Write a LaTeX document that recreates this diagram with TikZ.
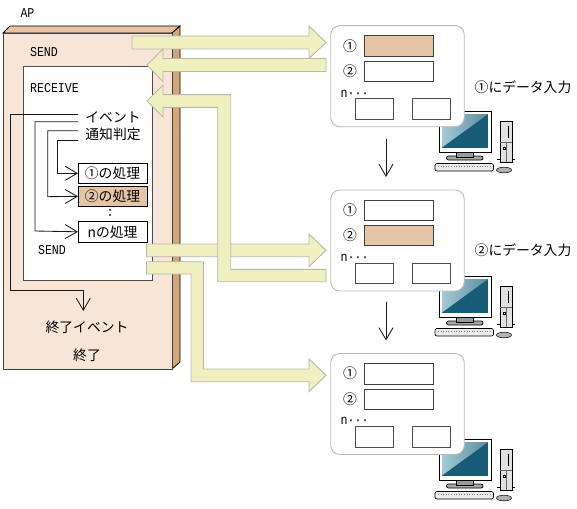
\documentclass[tikz,border=0pt]{standalone}
\usepackage{fontspec}
\setmainfont{Noto Sans CJK JP}
\setmonofont[FakeStretch=0.86]{Liberation Mono}
\definecolor{facetan}{RGB}{247,230,216}
\definecolor{toptan}{RGB}{232,196,164}
\definecolor{sidetan}{RGB}{210,166,121}
\definecolor{marked}{RGB}{230,197,166}
\definecolor{bandfill}{RGB}{240,239,192}
\definecolor{bandline}{RGB}{184,184,168}
\definecolor{screendark}{RGB}{24,92,120}
\usetikzlibrary{positioning, arrows.meta}

\begin{document}
\begin{tikzpicture}[
    x=1pt, y=-1pt,
    jptext/.style={inner sep=0pt, font=\fontsize{13.8}{15}\selectfont},
    monotext/.style={inner sep=0pt, font=\ttfamily\fontsize{13.5}{15}\selectfont},
    outerbox/.style={draw=black!75, fill=facetan, line width=0.9pt, inner sep=0pt, outer sep=0pt,
      minimum width=169pt, minimum height=336pt},
    recvbox/.style={draw=black!70, fill=white, line width=0.9pt, inner sep=0pt, outer sep=0pt,
      minimum width=129pt, minimum height=214.5pt},
    procbox/.style={jptext, draw=black, fill=white, line width=0.8pt, outer sep=0pt,
      minimum width=69pt, minimum height=20.5pt},
    dlgpanel/.style={draw=black!28, fill=white, line width=0.9pt, rounded corners=9pt, outer sep=0pt,
      minimum width=133.5pt, minimum height=101pt},
    inputbox/.style={draw=black!75, fill=white, line width=0.8pt, outer sep=0pt, inner sep=0pt,
      minimum width=69pt, minimum height=20.4pt},
    btnbox/.style={draw=black!70, fill=white, line width=0.8pt, outer sep=0pt, inner sep=0pt,
      minimum width=38.3pt, minimum height=20.8pt},
    flowline/.style={draw=black!90, line width=0.85pt, -{Straight Barb[length=12pt,width=14pt]}},
    bandarrow/.style={draw=bandline, fill=bandfill, line width=0.9pt},
    pics/computer/.style={code={
      % tower, monitor, keyboard, mouse
      \draw[black, line width=0.8pt] (58,48) -- (76,48);
      \draw[black, fill=black!12, line width=0.6pt] (61,10) rectangle (73,51);
      \draw[black!60, line width=0.5pt] (61,31) -- (73,31) (67,31) -- (67,51);
      \draw[black, line width=1pt] (69,15) -- (69,27);
      \draw[black, fill=white, line width=0.6pt] (64,36) rectangle (66.5,38.5);
      \draw[black, fill=black!35, line width=0.7pt, rounded corners=2pt] (7.5,45) rectangle (44,49);
      \draw[black, fill=black!40, line width=0.6pt] (17.5,41) rectangle (34,46);
      \draw[black, fill=white, line width=0.9pt] (0,0) rectangle (52.5,41.5);
      \fill[screendark] (3,3) rectangle (49,36.5);
      \shade[left color=black!0!cyan!20!screendark!40, right color=screendark!70!white]
        (3,3) -- (49,3) -- (3,36.5) -- cycle;
      \draw[black, fill=black!8, line width=0.7pt, rounded corners=2pt] (-4,52.5) rectangle (54.5,60);
      \draw[black!50, line width=0.6pt, dotted] (-1,55.5) -- (52,55.5);
      \draw[black, fill=black!30, line width=0.5pt] (65,59) ellipse (7.5 and 2.8);
    }},
  ]
    \useasboundingbox (0,0) rectangle (577,508);

    % computers go under the panels
    \pic at (439,111) {computer};
    \pic at (439,276) {computer};
    \pic at (439,439) {computer};

    % AP block
    \draw[black, fill=toptan, line width=0.8pt] (3,33) -- (10,26) -- (180,26) -- (172,33) -- cycle;
    \draw[black, fill=sidetan, line width=0.8pt] (172,33) -- (180,26) -- (180,362) -- (172,369) -- cycle;
    \node[outerbox] (ap) at (87.5,201) {};
    \node[recvbox] (recv) at (87.5,173.3) {};

    \node[monotext] (aptitle) at (27.5,12.7) {AP};
    \node[monotext] (send1) at (44,52) {SEND};
    \node[monotext] (receive) at (54.5,87.6) {RECEIVE};
    \node[jptext, inner xsep=7pt] (evt) at (113,117) {イベント};
    \node[jptext, inner xsep=7pt] (judge) at (113,134) {通知判定};
    \node[procbox] (proc1) at (112.5,173.3) {①の処理};
    \node[procbox, fill=marked, below=2.5pt of proc1] (proc2) {②の処理};
    \node[procbox, below=15pt of proc2] (procn) {nの処理};
    \node[monotext] (dots) at (110,213) {:};
    \node[monotext] (send2) at (52,250) {SEND};
    \node[jptext] (endevt) at (87,327) {終了イベント};
    \node[jptext] (endnode) at (87,355) {終了};

    \coordinate (endtip) at (83.3,311);
    \draw[flowline] ([yshift=2.7pt]evt.west) -| (10.7,290) -| (endtip);
    \draw[flowline] ([yshift=-4.7pt]evt.west) -| (35,231) -- (procn.west);
    \draw[flowline] ([yshift=3.3pt]judge.west) -| (47.7,196.7) -- (proc2.west);
    \draw[flowline] ([yshift=-6.7pt]judge.west) -| (57.7,173.3) -- (proc1.west);

    % band arrows between AP and the panels
    \draw[bandarrow] (132,36) -- (309,36) -- (309,26) -- (326,42.5) -- (309,58.5) -- (309,49) -- (132,49) -- cycle;
    \draw[bandarrow] (326,58.5) -- (163,58.5) -- (163,49) -- (147,65) -- (163,81.5) -- (163,71.5) -- (326,71.5) -- cycle;
    \draw[bandarrow] (146.5,244) -- (309,244) -- (309,234) -- (326,250.3) -- (309,266.7) -- (309,256.7) -- (146.5,256.7) -- cycle;
    \draw[bandarrow] (147,101) -- (163,85) -- (163,94.7) -- (230.7,94.7) -- (230.7,269.3) -- (326,269.3)
      -- (326,281.7) -- (217.7,281.7) -- (217.7,107.3) -- (163,107.3) -- (163,117) -- cycle;
    \draw[bandarrow] (146.5,261.7) -- (203.3,261.7) -- (203.3,369) -- (309,369) -- (309,359) -- (326,375.3)
      -- (309,391.7) -- (309,381.7) -- (191,381.7) -- (191,274) -- (146.5,274) -- cycle;

    % panel 1
    \node[dlgpanel] (p1) at (397.5,76.2) {};
    \node[inputbox, fill=marked, below right=10pt and 34pt of p1.north west] (f11) {};
    \node[inputbox, below=5pt of f11] (f12) {};
    \node[jptext, left=7.7pt of f11] (c11) {①};
    \node[jptext, left=7.7pt of f12] (c12) {②};
    \node[monotext, below right=64pt and 9.7pt of p1.north west] (n1) {n···};
    \node[btnbox, below right=73pt and 24.3pt of p1.north west] (b11) {};
    \node[btnbox, right=18.7pt of b11] (b12) {};
    \node[jptext, anchor=west] (t1) at (474.5,87) {①にデータ入力};

    % panel 2
    \node[dlgpanel] (p2) at (397.5,240.5) {};
    \node[inputbox, below right=10pt and 34pt of p2.north west] (f21) {};
    \node[inputbox, fill=marked, below=5pt of f21] (f22) {};
    \node[jptext, left=7.7pt of f21] (c21) {①};
    \node[jptext, left=7.7pt of f22] (c22) {②};
    \node[monotext, below right=64pt and 9.7pt of p2.north west] (n2) {n···};
    \node[btnbox, below right=73pt and 24.3pt of p2.north west] (b21) {};
    \node[btnbox, right=18.7pt of b21] (b22) {};
    \node[jptext, anchor=west] (t2) at (474.5,250) {②にデータ入力};

    % panel 3
    \node[dlgpanel] (p3) at (397.5,404) {};
    \node[inputbox, below right=10pt and 34pt of p3.north west] (f31) {};
    \node[inputbox, below=5pt of f31] (f32) {};
    \node[jptext, left=7.7pt of f31] (c31) {①};
    \node[jptext, left=7.7pt of f32] (c32) {②};
    \node[monotext, below right=64pt and 9.7pt of p3.north west] (n3) {n···};
    \node[btnbox, below right=73pt and 24.3pt of p3.north west] (b31) {};
    \node[btnbox, right=18.7pt of b31] (b32) {};

    \draw[flowline, shorten <=12pt, shorten >=13pt] ([xshift=-11.5pt]p1.south) -- ([xshift=-11.5pt]p2.north);
    \draw[flowline, shorten <=11pt, shorten >=13pt] ([xshift=-11.5pt]p2.south) -- ([xshift=-11.5pt]p3.north);
\end{tikzpicture}
\end{document}
